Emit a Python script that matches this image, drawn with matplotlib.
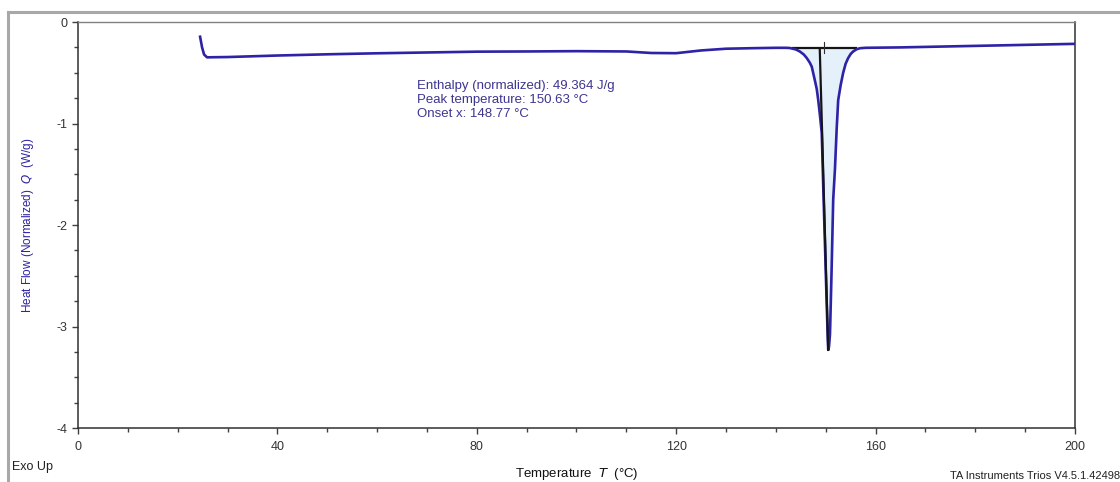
import matplotlib
matplotlib.use("Agg")
import matplotlib.pyplot as plt
from matplotlib.lines import Line2D

plt.rcParams['font.family'] = ['Liberation Sans', 'DejaVu Sans']
plt.rcParams['axes.unicode_minus'] = False

# DSC curve (temperature in °C, heat flow in W/g)
temperature = [24.5, 24.9, 25.3, 25.9, 27.0, 30.0, 40.0, 50.0, 60.0, 70.0,
               80.0, 90.0, 100.0, 110.0, 115.0, 120.0, 125.0, 130.0, 135.0, 140.0,
               142.0, 142.8, 144.0, 144.8, 145.6, 146.2, 146.8, 147.2, 147.8, 148.2,
               148.5, 148.8, 149.2, 149.55, 149.85, 150.15, 150.4, 150.5, 150.65, 150.85,
               151.0, 151.2, 151.5, 151.85, 152.2, 152.5, 153.0, 153.5, 154.0, 154.5,
               155.0, 155.5, 156.2, 156.9, 158.0, 165.0, 170.0, 180.0, 190.0, 200.0]
heat_flow = [-0.145, -0.25, -0.32, -0.348, -0.347, -0.345, -0.33, -0.318,
             -0.308, -0.300, -0.292, -0.290, -0.287, -0.290, -0.305, -0.307, -0.28,
             -0.263, -0.258, -0.254, -0.254, -0.256, -0.27, -0.29, -0.32, -0.355, -0.40,
             -0.44, -0.57, -0.66, -0.77, -0.90, -1.09, -1.70, -2.20, -2.70, -3.10, -3.23,
             -3.20, -3.08, -2.80, -2.40, -1.75, -1.45, -1.05, -0.77, -0.62, -0.50, -0.41,
             -0.355, -0.315, -0.29, -0.268, -0.258, -0.254, -0.25, -0.245, -0.235, -0.225,
             -0.215]

# Integration baseline and onset tangent
baseline_T = [143.5, 156.0]
baseline_Q = [-0.258, -0.258]
tangent_T = [148.8, 150.5]
tangent_Q = [-0.258, -3.23]
marker_T = [149.65, 149.65]
marker_Q = [-0.20, -0.31]

annotation_lines = ["Enthalpy (normalized): 49.364 J/g",
                    "Peak temperature: 150.63 \u00b0C",
                    "Onset x: 148.77 \u00b0C"]

x_ticks = [0, 40, 80, 120, 160, 200]
y_ticks = [0, -1, -2, -3, -4]

fig = plt.figure(figsize=(11.2, 4.82), dpi=100)
ax = fig.add_axes([0.0696, 0.112, 0.8902, 0.8423])

curve_color = '#2e22a6'

# Fill between curve and baseline within the peak
fill_T = [t for t in temperature if baseline_T[0] <= t <= baseline_T[1]]
fill_Q = [q for t, q in zip(temperature, heat_flow) if baseline_T[0] <= t <= baseline_T[1]]
ax.fill_between(fill_T, fill_Q, baseline_Q[0], color='#e4f1fb', zorder=1)

ax.plot(baseline_T, baseline_Q, color='#151515', lw=1.6, zorder=2)
ax.plot(temperature, heat_flow, color=curve_color, lw=1.9, zorder=3)
ax.plot(tangent_T, tangent_Q, color='#151515', lw=1.6, zorder=4)
ax.plot(marker_T, marker_Q, color='#303030', lw=0.8, zorder=4)

ax.set_xlim(0, 200)
ax.set_ylim(-4, 0)
ax.set_xticks(x_ticks)
ax.set_yticks(y_ticks)
ax.set_xticks([t for t in range(0, 201, 10) if t not in x_ticks], minor=True)
ax.set_yticks([-0.25, -0.5, -0.75, -1.25, -1.5, -1.75, -2.25, -2.5, -2.75,
               -3.25, -3.5, -3.75], minor=True)
ax.tick_params(axis='both', which='major', direction='out', length=4, width=1,
               color='#404040', labelsize=9, labelcolor='#333333')
ax.tick_params(axis='both', which='minor', direction='out', length=3, width=1,
               color='#404040')
ax.tick_params(axis='x', which='major', pad=5)

for side in ['left', 'bottom', 'right']:
    ax.spines[side].set_color('#303030')
    ax.spines[side].set_linewidth(1.1)
ax.spines['top'].set_color('#808080')
ax.spines['top'].set_linewidth(1.0)

ax.set_xlabel('Temperature  $\\it{T}$  (\u00b0C)', fontsize=9.5, color='#111111', labelpad=10)
ax.set_ylabel('Heat Flow (Normalized)  $\\it{Q}$  (W/g)', fontsize=8.5, color='#2e22a6')
ax.yaxis.set_label_coords(-0.042, 0.5)

ax.text(68.0, -0.77, "\n".join(annotation_lines), fontsize=9.5, color='#3d3590',
        ha='left', va='center', linespacing=1.2)

fig.text(12 / 1120, 1 - 467 / 482, 'Exo Up', fontsize=9, color='#222222', ha='left', va='center')
fig.text(1.0, 1 - 476 / 482, 'TA Instruments Trios V4.5.1.42498', fontsize=8,
         color='#222222', ha='right', va='center')

# Gray outer frame (top and left)
fig.add_artist(Line2D([8 / 1120, 1.0], [1 - 12 / 482, 1 - 12 / 482], transform=fig.transFigure,
                      color='#a8a8a8', lw=2.2))
fig.add_artist(Line2D([8 / 1120, 8 / 1120], [0.0, 1 - 12 / 482], transform=fig.transFigure,
                      color='#a8a8a8', lw=2.2))

fig.savefig('out.png', dpi=100)
